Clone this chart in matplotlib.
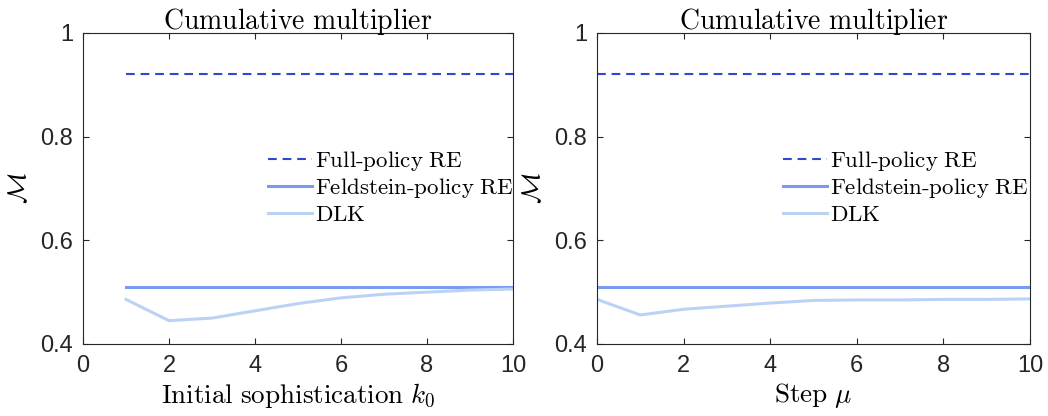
import matplotlib
matplotlib.use("Agg")
import matplotlib.pyplot as plt

plt.rcParams['font.family'] = ['Liberation Sans', 'DejaVu Sans']
plt.rcParams['mathtext.fontset'] = 'cm'

# initial sophistication k0
k0 = [1, 2, 3, 4, 5, 6, 7, 8, 9, 10]
full_k0 = [0.92] * len(k0)
feld_k0 = [0.509] * len(k0)
dlk_k0 = [0.486, 0.445, 0.450, 0.464, 0.478, 0.489, 0.496, 0.500, 0.504, 0.506]

# step mu
mu = [0, 1, 2, 3, 4, 5, 6, 7, 8, 9, 10]
full_mu = [0.92] * len(mu)
feld_mu = [0.509] * len(mu)
dlk_mu = [0.486, 0.456, 0.467, 0.473, 0.479, 0.484, 0.485, 0.485, 0.486, 0.486, 0.487]

c_full = '#3347cc'
c_feld = '#7a9cf0'
c_dlk = '#bcd2f5'

fig = plt.figure(figsize=(10.48, 4.16), dpi=100)
ax1 = fig.add_axes([0.0792, 0.1731, 0.4103, 0.7476])
ax2 = fig.add_axes([0.5697, 0.1731, 0.4132, 0.7476])

panels = [
    (ax1, k0, full_k0, feld_k0, dlk_k0, r'$\mathrm{Initial\ sophistication}\ k_0$'),
    (ax2, mu, full_mu, feld_mu, dlk_mu, r'$\mathrm{Step}\ \mu$'),
]

for ax, x, full, feld, dlk, xl in panels:
    ax.plot(x, full, '--', color=c_full, lw=1.5, dashes=(4.2, 2.8), label=r'$\mathrm{Full\text{-}policy\ RE}$')
    ax.plot(x, feld, '-', color=c_feld, lw=2.2, label=r'$\mathrm{Feldstein\text{-}policy\ RE}$')
    ax.plot(x, dlk, '-', color=c_dlk, lw=2.2, label=r'$\mathrm{DLK}$')
    ax.set_xlim(0, 10)
    ax.set_ylim(0.4, 1)
    ax.set_xticks([0, 2, 4, 6, 8, 10])
    ax.set_yticks([0.4, 0.6, 0.8, 1])
    ax.set_yticklabels(['0.4', '0.6', '0.8', '1'])
    ax.set_title(r'$\mathrm{Cumulative\ multiplier}$', fontsize=20, pad=3)
    ax.set_xlabel(xl, fontsize=19.5, labelpad=3)
    ax.set_ylabel(r'$\mathcal{M}$', fontsize=19, labelpad=7)
    ax.tick_params(direction='in', top=True, right=True, labelsize=17,
                   colors='#262626', length=4, width=0.8)
    ax.tick_params(axis='x', pad=8)
    ax.tick_params(axis='y', pad=7)
    for s in ax.spines.values():
        s.set_color('#262626')
        s.set_linewidth(0.8)
    leg = ax.legend(loc='upper left', bbox_to_anchor=(0.43, 0.626), frameon=False,
                    fontsize=16.5, handlelength=1.92, handletextpad=0.14,
                    labelspacing=0.12, borderaxespad=0, borderpad=0)

fig.savefig('out.png', dpi=100)
